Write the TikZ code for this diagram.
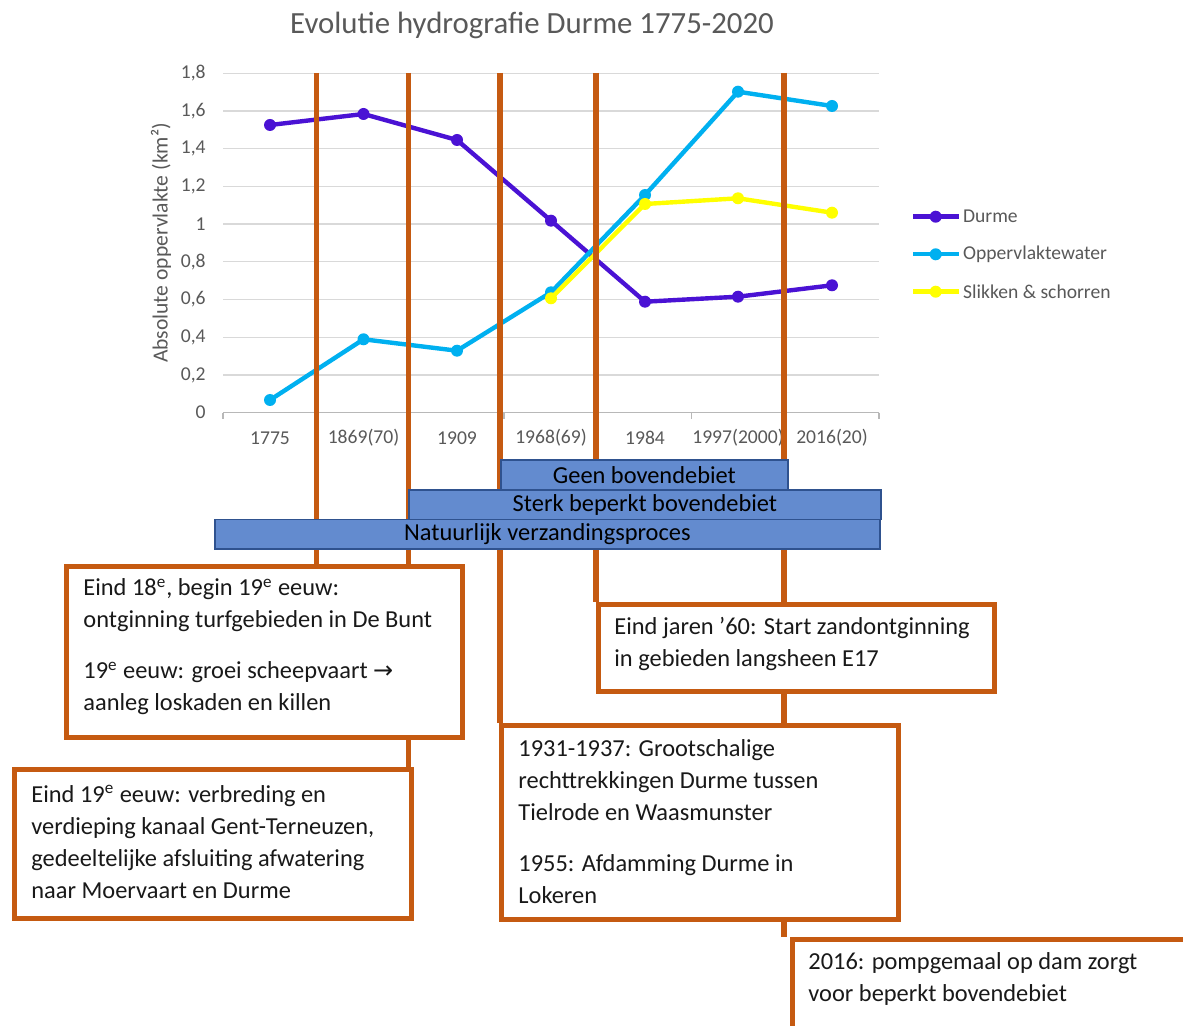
\documentclass[tikz,border=0pt]{standalone}
\usepackage{fontspec}
\setmainfont{Carlito}
\newfontfamily\dejavu{DejaVu Sans}
\definecolor{durmec}{RGB}{74,18,212}
\definecolor{owc}{RGB}{0,176,240}
\definecolor{slc}{RGB}{255,255,0}
\definecolor{orangec}{RGB}{197,90,17}
\definecolor{barf}{RGB}{99,139,207}
\definecolor{barb}{RGB}{47,82,143}
\definecolor{gridc}{RGB}{217,217,217}
\definecolor{axc}{RGB}{89,89,89}
\definecolor{txtc}{RGB}{25,25,25}
\pgfdeclarelayer{bgl}
\pgfdeclarelayer{chart}
\pgfdeclarelayer{vlines}
\pgfsetlayers{bgl,chart,vlines,main}
\begin{document}
\begin{tikzpicture}[x=0.5pt,y=-0.5pt,
  gridl/.style={draw=gridc,line width=0.7pt},
  ytl/.style={anchor=east,inner sep=0pt,text=axc,font=\fontsize{9.8pt}{11pt}\selectfont},
  xtl/.style={anchor=center,inner sep=0pt,text=axc,font=\fontsize{9.8pt}{11pt}\selectfont},
  legtxt/.style={anchor=west,inner sep=0pt,text=axc,font=\fontsize{9.8pt}{11pt}\selectfont},
  dser/.style={draw=durmec,line width=2.2pt,line join=round,line cap=round},
  oser/.style={draw=owc,line width=2.2pt,line join=round,line cap=round},
  sser/.style={draw=slc,line width=2.2pt,line join=round,line cap=round},
  vline/.style={draw=orangec,line width=2.6pt},
  evbox/.style={draw=orangec,line width=2.3pt,fill=white,anchor=north west,inner sep=0pt},
  boxtxt/.style={anchor=west,align=left,inner sep=0pt,text=txtc,font=\fontsize{12.2pt}{16pt}\selectfont},
  barbox/.style={draw=barb,line width=0.9pt,fill=barf,anchor=north west,inner sep=0pt,text=black,font=\fontsize{12.2pt}{14pt}\selectfont}
]
\useasboundingbox (0,0) rectangle (1183,1026);
\begin{pgfonlayer}{bgl}
\fill[white] (0,0) rectangle (1183,1026);
\end{pgfonlayer}

% title and axis title
\node[text=axc,font=\fontsize{15.4pt}{18pt}\selectfont,inner sep=0pt] (title) at (532,25) {Evolutie hydrografie Durme 1775-2020};
\node[text=axc,font=\fontsize{10.8pt}{12pt}\selectfont,inner sep=0pt,rotate=90] (ytitle) at (161,243) {Absolute oppervlakte (km²)};

% boxes (main layer)
\node[evbox,minimum width=198pt,minimum height=85.5pt] (A) at (64,564) {};
\node[evbox,minimum width=198.5pt,minimum height=74.5pt] (B) at (12,767) {};
\node[evbox,minimum width=198pt,minimum height=43.5pt] (C) at (596,602) {};
\node[evbox,minimum width=198.5pt,minimum height=97pt] (D) at (499,723) {};
\node[evbox,minimum width=225pt,minimum height=61.5pt] (E) at (790,937) {};

\node[boxtxt] (tA) at (83,647) {Eind 18\textsuperscript{e}, begin 19\textsuperscript{e} eeuw:\\ontginning turfgebieden in De Bunt\\[9.5pt]19\textsuperscript{e} eeuw: groei scheepvaart {\dejavu\fontsize{12pt}{16pt}\selectfont →}\\aanleg loskaden en killen};
\node[boxtxt] (tB) at (31,842) {Eind 19\textsuperscript{e} eeuw: verbreding en\\verdieping kanaal Gent-Terneuzen,\\gedeeltelijke afsluiting afwatering\\naar Moervaart en Durme};
\node[boxtxt] (tC) at (614,643.5) {Eind jaren ’60: Start zandontginning\\in gebieden langsheen E17};
\node[boxtxt] (tD) at (518,821.5) {1931-1937: Grootschalige\\rechttrekkingen Durme tussen\\Tielrode en Waasmunster\\[9.5pt]1955: Afdamming Durme in\\Lokeren};
\node[boxtxt] (tE) at (808,979) {2016: pompgemaal op dam zorgt\\voor beperkt bovendebiet};

% bars
\node[barbox,minimum width=143.5pt,minimum height=15pt] (geen) at (500,459) {Geen bovendebiet};
\node[barbox,minimum width=236pt,minimum height=14.75pt] (sterk) at (408,489) {Sterk beperkt bovendebiet};
\node[barbox,minimum width=332.5pt,minimum height=14.75pt] (nat) at (214,518.5) {Natuurlijk verzandingsproces};

% vertical orange lines
\coordinate (t1) at (316.5,73);
\coordinate (t2) at (408.7,73);
\coordinate (t3) at (500,73);
\coordinate (t4) at (596,73);
\coordinate (t5) at (784,73);
\begin{pgfonlayer}{vlines}
\draw[vline] (t1) -- (t1 |- A.north);
\draw[vline] (t2) -- (t2 |- B.north);
\draw[vline] (t3) -- (t3 |- D.north);
\draw[vline] (t4) -- (t4 |- C.north);
\draw[vline] (t5) -- (t5 |- E.north);
\end{pgfonlayer}

% chart
\begin{pgfonlayer}{chart}
\foreach \yy/\lab [count=\i] in {412.7/0, 375.0/{0,2}, 337.3/{0,4}, 299.5/{0,6}, 261.8/{0,8}, 224.2/1, 186.5/{1,2}, 148.7/{1,4}, 111.0/{1,6}, 73.3/{1,8}}{
  \draw[gridl] (223,\yy) -- (879,\yy);
  \node[ytl] (yl\i) at (206,\yy) {\lab};
}
\draw[draw=gridc!85!black,line width=0.7pt] (223,412.7) -- (879,412.7);
\foreach \k in {0,...,7}{
  \draw[draw=gridc!85!black,line width=0.7pt] ({223+\k*93.71},412.7) -- ({223+\k*93.71},419);
}
\foreach \xx/\lab [count=\i] in {270/1775, 363.5/1869(70), 457/1909, 551/1968(69), 645/1984, 738/1997(2000), 832/2016(20)}{
  \node[xtl] (xl\i) at (\xx,438) {\lab};
}
\draw[dser] (270,125) -- (363.5,114) -- (457,140) -- (551,220.7) -- (645,301.7) -- (738,296.7) -- (832,285.3);
\foreach \p in {(270,125),(363.5,114),(457,140),(551,220.7),(645,301.7),(738,296.7),(832,285.3)}
  \fill[durmec] \p circle (3pt);
\draw[oser] (270,400) -- (363.5,339.3) -- (457,350.7) -- (551,292.3) -- (645,195) -- (738,91.7) -- (832,106);
\foreach \p in {(270,400),(363.5,339.3),(457,350.7),(551,292.3),(645,195),(738,91.7),(832,106)}
  \fill[owc] \p circle (3pt);
\draw[sser] (551,298.3) -- (645,204) -- (738,198.3) -- (832,212.7);
\foreach \p in {(551,298.3),(645,204),(738,198.3),(832,212.7)}
  \fill[slc] \p circle (3pt);
% legend
\draw[dser,line cap=butt] (913,216.7) -- (959,216.7);
\fill[durmec] (935.7,216.7) circle (3pt);
\node[legtxt] (lg1) at (962.7,216.7) {Durme};
\draw[oser,line cap=butt] (913,254.3) -- (959,254.3);
\fill[owc] (935.7,254.3) circle (3pt);
\node[legtxt] (lg2) at (962.7,254.3) {Oppervlaktewater};
\draw[sser,line cap=butt] (913,291.7) -- (959,291.7);
\fill[slc] (935.7,291.7) circle (3pt);
\node[legtxt] (lg3) at (962.7,291.7) {Slikken \& schorren};
\end{pgfonlayer}
\end{tikzpicture}
\end{document}
